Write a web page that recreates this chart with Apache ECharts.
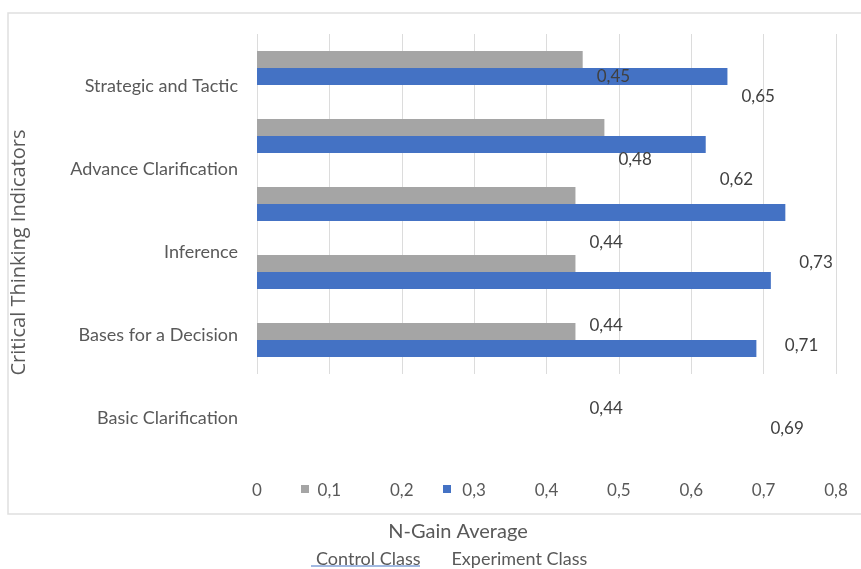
<!DOCTYPE html>
<html>
<head>
<meta charset="utf-8">
<script src="https://cdn.jsdelivr.net/npm/echarts@6/dist/echarts.min.js"></script>
<style>
  html, body { margin: 0; padding: 0; background: #fff; }
  #chart { width: 861px; height: 569px; }
</style>
</head>
<body>
<div id="chart"></div>
<script>
const categories = ['Strategic and Tactic', 'Advance Clarification', 'Inference', 'Bases for a Decision', 'Basic Clarification'];
const controlClass = [0.45, 0.48, 0.44, 0.44, 0.44];
const experimentClass = [0.65, 0.62, 0.73, 0.71, 0.69];
const xTicks = [0, 0.1, 0.2, 0.3, 0.4, 0.5, 0.6, 0.7, 0.8];

const font = 'Lato, "Open Sans", sans-serif';
const comma = v => String(+(+v).toFixed(2)).replace('.', ',');

const chart = echarts.init(document.getElementById('chart'));

const option = {
    animation: false,
    textStyle: { fontFamily: font },
    grid: [
        // bars
        { left: 257, right: 25, top: 34, height: 340 },
        // labels (category text + data values)
        { left: 257, right: 25, top: 45, height: 415 }
    ],
    xAxis: [
        {
            gridIndex: 0, type: 'value',
            min: xTicks[0], max: xTicks[xTicks.length - 1], interval: 0.1,
            axisLine: { show: false }, axisTick: { show: false },
            axisLabel: { show: false },
            splitLine: { show: true, lineStyle: { color: '#dcdcdc' } }
        },
        {
            gridIndex: 1, type: 'value',
            min: xTicks[0], max: xTicks[xTicks.length - 1], interval: 0.1,
            axisLine: { show: false }, axisTick: { show: false },
            splitLine: { show: false },
            axisLabel: {
                margin: 22, color: '#595959', fontSize: 17, fontFamily: font,
                formatter: v => comma(v)
            }
        }
    ],
    yAxis: [
        {
            gridIndex: 0, type: 'category', inverse: true, data: categories,
            axisLine: { show: false }, axisTick: { show: false },
            axisLabel: { show: false }
        },
        {
            gridIndex: 1, type: 'category', inverse: true, data: categories,
            axisLine: { show: false }, axisTick: { show: false },
            axisLabel: { margin: 19, color: '#595959', fontSize: 18, fontFamily: font },
            name: 'Critical Thinking Indicators',
            nameLocation: 'middle',
            nameGap: 228,
            nameTextStyle: { color: '#595959', fontSize: 20, fontFamily: '"Open Sans", sans-serif' }
        }
    ],
    legend: [
        {
            data: ['Control Class', 'Experiment Class'],
            left: 296, top: 480,
            icon: 'rect', itemWidth: 8, itemHeight: 8, itemGap: 134,
            formatter: () => ''
        },
        {
            data: ['Control Class', 'Experiment Class'],
            left: 306, top: 545,
            icon: 'rect', itemWidth: 0, itemHeight: 0, itemGap: 26,
            textStyle: { color: '#595959', fontSize: 18, fontFamily: font }
        }
    ],
    graphic: [
        {
            type: 'rect', silent: true, z: -1,
            shape: { x: 8, y: 13, width: 860, height: 501 },
            style: { fill: 'none', stroke: '#e0e0e0', lineWidth: 1.5 }
        },
        {
            type: 'text', silent: true,
            x: 458, y: 532,
            style: {
                text: 'N-Gain Average', fill: '#595959', fontSize: 20,
                fontFamily: font, align: 'center', verticalAlign: 'middle'
            }
        },
        {
            type: 'line', silent: true,
            shape: { x1: 311, y1: 566, x2: 420, y2: 566 },
            style: { stroke: '#4472c4', lineWidth: 1 }
        }
    ],
    series: [
        {
            name: 'Control Class', type: 'bar',
            xAxisIndex: 0, yAxisIndex: 0,
            data: controlClass, barWidth: 17, barGap: 0,
            itemStyle: { color: '#a5a5a5' }
        },
        {
            name: 'Experiment Class', type: 'bar',
            xAxisIndex: 0, yAxisIndex: 0,
            data: experimentClass, barWidth: 17, barGap: 0,
            itemStyle: { color: '#4472c4' }
        },
        {
            name: 'Control labels', type: 'bar',
            xAxisIndex: 1, yAxisIndex: 1,
            data: controlClass, barWidth: 20, barGap: 0,
            itemStyle: { color: 'rgba(0,0,0,0)' },
            label: {
                show: true, position: 'right', distance: 14,
                color: '#404040', fontSize: 17, fontFamily: font,
                formatter: p => comma(p.value)
            },
            z: 5
        },
        {
            name: 'Experiment labels', type: 'bar',
            xAxisIndex: 1, yAxisIndex: 1,
            data: experimentClass, barWidth: 20, barGap: 0,
            itemStyle: { color: 'rgba(0,0,0,0)' },
            label: {
                show: true, position: 'right', distance: 14,
                color: '#404040', fontSize: 17, fontFamily: font,
                formatter: p => comma(p.value)
            },
            z: 5
        }
    ]
};

chart.setOption(option);
</script>
</body>
</html>
